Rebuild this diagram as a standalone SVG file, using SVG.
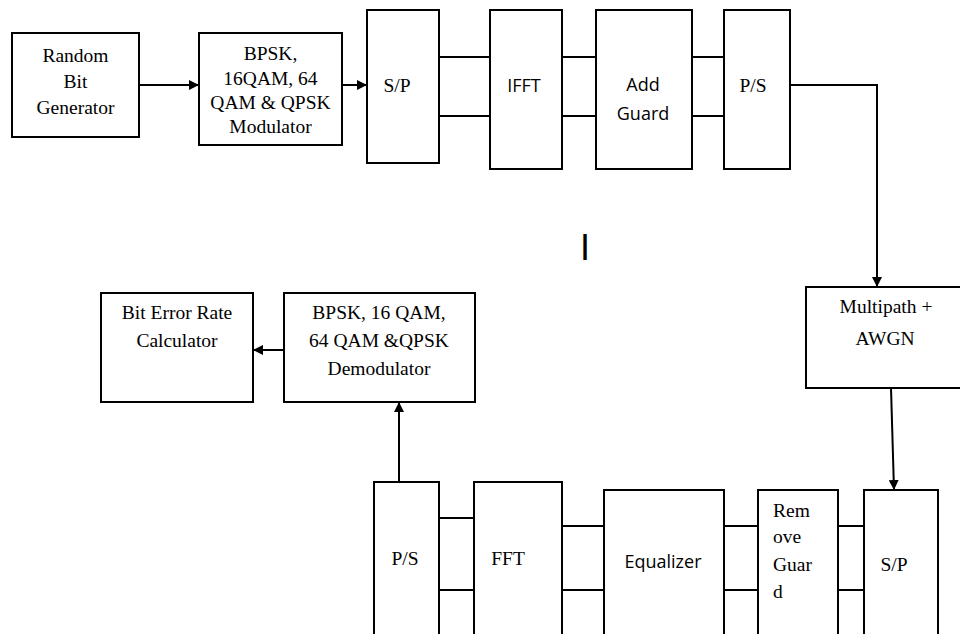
<svg xmlns="http://www.w3.org/2000/svg" width="960" height="634" viewBox="0 0 960 634">
<style>
.box{fill:#fff;stroke:#000;stroke-width:2}
.ln{fill:none;stroke:#000;stroke-width:2}
.t{font-family:"Liberation Serif","Times New Roman",serif;font-size:19.5px;fill:#000;text-anchor:middle}
.tl{font-family:"Liberation Serif","Times New Roman",serif;font-size:19.5px;fill:#000;text-anchor:start}
.s{font-family:"Open Sans","Liberation Sans",sans-serif;font-size:18px;fill:#000;text-anchor:middle}
</style>
<defs>
<marker id="ah" viewBox="0 0 10 10" refX="10" refY="5" markerWidth="10" markerHeight="10" markerUnits="userSpaceOnUse" orient="auto">
<path d="M0,0 L10,5 L0,10 z" fill="#000"/>
</marker>
</defs>
<rect width="960" height="634" fill="#fff"/>
<g id="connectors">
<line class="ln" x1="139" y1="85" x2="199" y2="85" marker-end="url(#ah)"/>
<line class="ln" x1="342" y1="85" x2="367" y2="85" marker-end="url(#ah)"/>
<line class="ln" x1="439" y1="57" x2="490" y2="57"/>
<line class="ln" x1="439" y1="116" x2="490" y2="116"/>
<line class="ln" x1="562" y1="57" x2="596" y2="57"/>
<line class="ln" x1="562" y1="116" x2="596" y2="116"/>
<line class="ln" x1="692" y1="57" x2="724" y2="57"/>
<line class="ln" x1="692" y1="116" x2="724" y2="116"/>
<polyline class="ln" points="790,85 877,85 877,287" marker-end="url(#ah)"/>
<line class="ln" x1="891" y1="388" x2="894" y2="490" marker-end="url(#ah)"/>
<line class="ln" x1="838" y1="526" x2="864" y2="526"/>
<line class="ln" x1="838" y1="590" x2="864" y2="590"/>
<line class="ln" x1="724" y1="526" x2="758" y2="526"/>
<line class="ln" x1="724" y1="590" x2="758" y2="590"/>
<line class="ln" x1="562" y1="526" x2="604" y2="526"/>
<line class="ln" x1="562" y1="590" x2="604" y2="590"/>
<line class="ln" x1="439" y1="518" x2="474" y2="518" stroke="#555"/>
<line class="ln" x1="439" y1="590" x2="474" y2="590"/>
<line class="ln" x1="399" y1="482" x2="399" y2="402" marker-end="url(#ah)"/>
<line class="ln" x1="284" y1="350" x2="253" y2="350" marker-end="url(#ah)"/>
</g>
<g id="random-bit-generator">
<rect class="box" x="12" y="33" width="127" height="104"/>
<text class="t" x="75.5" y="62">Random</text>
<text class="t" x="75.5" y="88">Bit</text>
<text class="t" x="75.5" y="114">Generator</text>
</g>
<g id="modulator">
<rect class="box" x="199" y="33" width="143" height="112"/>
<text class="t" x="270.5" y="60">BPSK,</text>
<text class="t" x="270.5" y="85">16QAM, 64</text>
<text class="t" x="270.5" y="109">QAM &amp; QPSK</text>
<text class="t" x="270.5" y="133">Modulator</text>
</g>
<g id="sp-tx">
<rect class="box" x="367" y="10" width="72" height="153"/>
<text class="t" x="397" y="92">S/P</text>
</g>
<g id="ifft">
<rect class="box" x="490" y="10" width="72" height="159"/>
<text class="s" x="524" y="92">IFFT</text>
</g>
<g id="add-guard">
<rect class="box" x="596" y="10" width="96" height="159"/>
<text class="s" x="643" y="91">Add</text>
<text class="s" x="643" y="120">Guard</text>
</g>
<g id="ps-tx">
<rect class="box" x="724" y="10" width="66" height="159"/>
<text class="t" x="753" y="92">P/S</text>
</g>
<g id="mark">
<text x="585" y="260" font-family="Liberation Sans, Arial, sans-serif" font-size="36" text-anchor="middle" fill="#000">I</text>
</g>
<g id="channel">
<rect class="box" x="806" y="287" width="170" height="101"/>
<text class="t" x="886" y="313">Multipath +</text>
<text class="t" x="885" y="345">AWGN</text>
</g>
<g id="ber">
<rect class="box" x="101" y="293" width="152" height="109"/>
<text class="t" x="177" y="319">Bit Error Rate</text>
<text class="t" x="177" y="347">Calculator</text>
</g>
<g id="demodulator">
<rect class="box" x="284" y="293" width="191" height="109"/>
<text class="t" x="379" y="319">BPSK, 16 QAM,</text>
<text class="t" x="379" y="347">64 QAM &amp;QPSK</text>
<text class="t" x="379" y="375">Demodulator</text>
</g>
<g id="sp-rx">
<rect class="box" x="864" y="490" width="74" height="160"/>
<text class="t" x="894" y="571">S/P</text>
</g>
<g id="remove-guard">
<rect class="box" x="758" y="490" width="80" height="160"/>
<text class="tl" x="773" y="517">Rem</text>
<text class="tl" x="773" y="543">ove</text>
<text class="tl" x="773" y="571">Guar</text>
<text class="tl" x="773" y="598">d</text>
</g>
<g id="equalizer">
<rect class="box" x="604" y="490" width="120" height="160"/>
<text class="s" x="663" y="568">Equalizer</text>
</g>
<g id="fft">
<rect class="box" x="474" y="482" width="88" height="170"/>
<text class="t" x="508" y="565">FFT</text>
</g>
<g id="ps-rx">
<rect class="box" x="374" y="482" width="65" height="170"/>
<text class="t" x="405" y="565">P/S</text>
</g>
</svg>
